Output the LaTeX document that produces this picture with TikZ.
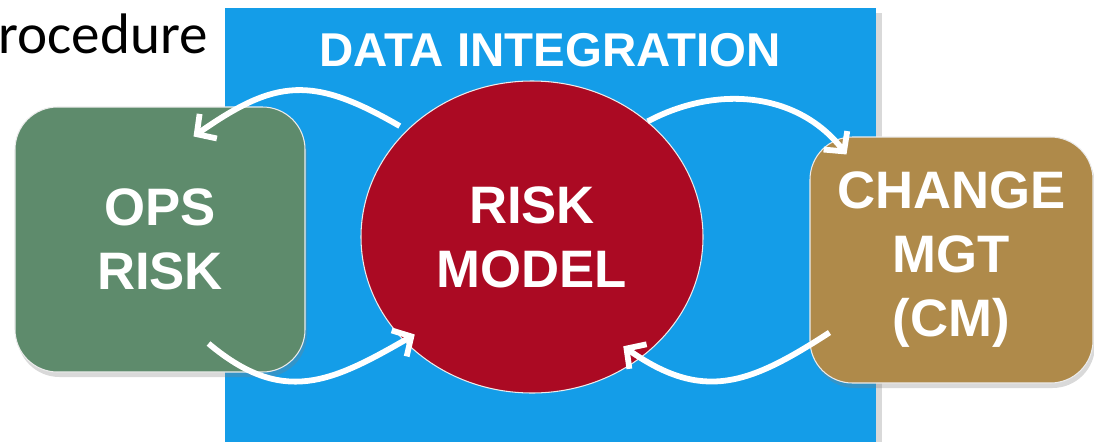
\documentclass[tikz,border=0pt]{standalone}
\usepackage{fontspec}
\setmainfont{Liberation Sans}
\newfontfamily\procfont{Carlito}
\usepackage{tikz}
\usetikzlibrary{arrows.meta}
\usetikzlibrary{calc}
\usetikzlibrary{shadows}
\usetikzlibrary{shapes.geometric}

\definecolor{intblue}{RGB}{20,157,232}
\definecolor{riskred}{RGB}{171,10,35}
\definecolor{opsgreen}{RGB}{94,139,108}
\definecolor{cmgold}{RGB}{175,138,74}

\tikzset{
  stagebox/.style={rounded corners=0.85cm, draw=white!85!gray, line width=0.6pt,
    text=white, align=center, font=\bfseries\fontsize{30}{36.4}\selectfont,
    drop shadow={shadow xshift=0.04cm, shadow yshift=-0.1cm, opacity=0.3}},
  cycleflow/.style={draw=white, line width=3.3pt, -{Straight Barb[length=2.8mm,width=6mm]}}
}

\begin{document}
\begin{tikzpicture}
\useasboundingbox (0,0) rectangle (21.88,8.82);
\fill [intblue, drop shadow={shadow xshift=0.12cm, shadow yshift=-0.1cm, opacity=0.3}] (4.5,-0.5) rectangle (17.52,8.66);
\node (proc) [anchor=base west, inner sep=0, font=\procfont\fontsize{32.5}{38}\selectfont] at (-0.04,7.76) {rocedure};
\node (title) [inner sep=0, text=white, font=\bfseries\fontsize{27}{32}\selectfont] at (11.0,7.82) {DATA INTEGRATION};
% the three stages
\node (ops) [stagebox, fill=opsgreen, minimum width=5.8cm, minimum height=5.3cm] at (3.2,4.03) {OPS\\RISK};
\node (chg) [stagebox, fill=cmgold, minimum width=5.66cm, minimum height=4.92cm] at (19.03,3.62) {CHANGE\\MGT\\(CM)};
\node (model) [ellipse, fill=riskred, draw=white!85!gray, line width=0.6pt, text=white, align=center,
  font=\bfseries\fontsize{30}{36.4}\selectfont, minimum width=6.84cm, minimum height=6.24cm] at (10.64,4.08) {RISK\\MODEL};
% loops between them
\draw [cycleflow] ($(model.140)+(-0.12,0.1)$) to[out=150,in=35,looseness=1.25] ($(ops.north east)+(-2.24,-0.6)$);
\draw [cycleflow] (model.45) to[out=28,in=128] ($(chg.north west)+(0.74,-0.36)$);
\draw [cycleflow] ($(ops.south east)+(-1.94,0.58)$) to[out=-40,in=210,looseness=1.2] ($(model.220)+(0.18,0.17)$);
\draw [cycleflow] ($(chg.south west)+(0.4,1.02)$) to[out=213,in=-35,looseness=1.2] ($(model.-50)+(-0.26,0.3)$);
\end{tikzpicture}
\end{document}
